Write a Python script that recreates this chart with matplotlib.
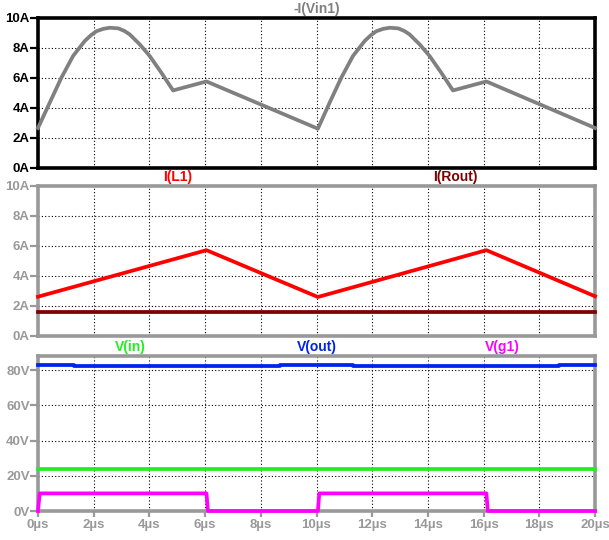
import numpy as np
import matplotlib
matplotlib.use('Agg')
import matplotlib.pyplot as plt

plt.rcParams['font.family'] = ['Liberation Sans', 'DejaVu Sans']
plt.rcParams['font.weight'] = 'bold'

# -I(Vin1)
t_iin = [0, 0.42, 0.84, 1.26, 1.68, 1.9, 2.1, 2.35, 2.58, 2.88, 3.1, 3.29, 3.65, 4.01, 4.43, 4.85, 6.05,
         10.05, 10.47, 10.89, 11.31, 11.73, 11.95, 12.15, 12.40, 12.63, 12.93, 13.15, 13.34, 13.70, 14.06,
         14.48, 14.90, 16.10, 20.0]
i_in = [2.65, 4.33, 6.0, 7.45, 8.45, 8.83, 9.1, 9.26, 9.33, 9.29, 9.12, 8.89, 8.23, 7.45, 6.33, 5.15, 5.75,
        2.6, 4.33, 6.0, 7.45, 8.45, 8.83, 9.1, 9.26, 9.33, 9.29, 9.12, 8.89, 8.23, 7.45,
        6.33, 5.15, 5.75, 2.65]

# I(L1), I(Rout)
t_il = [0, 6.05, 10.05, 16.1, 20]
i_l1 = [2.62, 5.72, 2.6, 5.72, 2.65]
t_rout = [0, 20]
i_rout = [1.6, 1.6]

# V(in), V(out), V(g1)
t_vin = [0, 20]
v_in = [24, 24]
t_vout = [0, 1.3, 1.3, 8.7, 8.7, 11.3, 11.3, 18.7, 18.7, 20]
v_out = [82.8, 82.8, 82.2, 82.2, 82.8, 82.8, 82.2, 82.2, 82.8, 82.8]
t_g1 = [0, 0.06, 6.05, 6.1, 10.05, 10.1, 16.1, 16.15, 20]
v_g1 = [0, 10, 10, 0, 0, 10, 10, 0, 0]

xticks = np.arange(0, 21, 2)
xlabels = [f'{x}µs' for x in xticks]

GREY = '#999999'

fig = plt.figure(figsize=(6.09, 5.40), dpi=100)
W = 557 / 609
L = 38 / 609
ax1 = fig.add_axes([L, 1 - 167.7 / 540, W, 150 / 540])
ax2 = fig.add_axes([L, 1 - 336 / 540, W, 150 / 540])
ax3 = fig.add_axes([L, 1 - 511 / 540, W, 155 / 540])


def style(ax, col, yt, ylabels, ylim, bottom=False):
    ax.set_xlim(0, 20)
    ax.set_ylim(*ylim)
    ax.set_xticks(xticks)
    ax.set_yticks(yt)
    ax.set_yticklabels(ylabels)
    for s in ax.spines.values():
        s.set_color(col)
        s.set_linewidth(2.6)
    ax.tick_params(axis='y', length=6, width=1.6, color=col, labelcolor=col,
                   labelsize=9.5, pad=0)
    if bottom:
        ax.set_xticklabels(xlabels)
        ax.tick_params(axis='x', length=4.5, width=1.6, color=col, labelcolor=col,
                       labelsize=9.5, pad=1.5)
    else:
        ax.tick_params(axis='x', length=0, labelbottom=False)
    ax.grid(True, color='black', linestyle=(0, (1, 2)), linewidth=0.8)
    ax.set_axisbelow(True)


def label(ax, fx, txt, col):
    ax.annotate(txt, xy=(fx, 1), xycoords='axes fraction', xytext=(0, 6.5),
                textcoords='offset points', ha='center', va='center',
                color=col, fontsize=10, fontweight='bold')


ax1.plot(t_iin, i_in, color='#808080', lw=2.7, zorder=3, clip_on=False)
style(ax1, 'black', [0, 2, 4, 6, 8, 10], ['0A', '2A', '4A', '6A', '8A', '10A'], (0, 10))
label(ax1, 0.5, '-I(Vin1)', '#808080')

ax2.plot(t_il, i_l1, color='#ff0000', lw=2.7, zorder=3, clip_on=False)
ax2.plot(t_rout, i_rout, color='#800000', lw=2.7, zorder=3, clip_on=False)
style(ax2, GREY, [0, 2, 4, 6, 8, 10], ['0A', '2A', '4A', '6A', '8A', '10A'], (0, 10))
label(ax2, 0.25, 'I(L1)', '#ff0000')
label(ax2, 0.75, 'I(Rout)', '#800000')

ax3.plot(t_vin, v_in, color='#22ee22', lw=2.7, zorder=3, clip_on=False)
ax3.plot(t_vout, v_out, color='#0022ee', lw=2.7, zorder=3, clip_on=False)
ax3.plot(t_g1, v_g1, color='#ff00ff', lw=2.7, zorder=3, clip_on=False)
style(ax3, GREY, [0, 20, 40, 60, 80], ['0V', '20V', '40V', '60V', '80V'], (0, 88), bottom=True)
label(ax3, 1 / 6, 'V(in)', '#22ee22')
label(ax3, 0.5, 'V(out)', '#0022ee')
label(ax3, 5 / 6, 'V(g1)', '#ff00ff')

fig.savefig('out.png', dpi=100)
